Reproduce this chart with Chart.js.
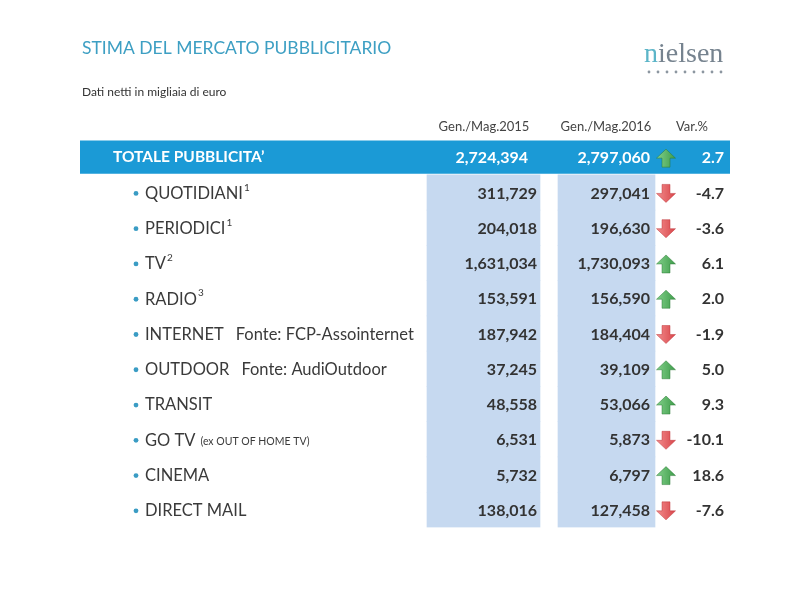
<!DOCTYPE html>
<html>
<head>
<meta charset="utf-8">
<script src="https://cdn.jsdelivr.net/npm/chart.js@4.4.1/dist/chart.umd.min.js"></script>
<style>
  html, body { margin: 0; padding: 0; background: #ffffff; }
  #wrap { width: 800px; height: 600px; }
</style>
</head>
<body>
<div id="wrap"><canvas id="marketChart" width="800" height="600"></canvas></div>
<script>
// Dati netti in migliaia di euro
const categories = ['TOTALE PUBBLICITA’', 'QUOTIDIANI', 'PERIODICI', 'TV', 'RADIO', 'INTERNET', 'OUTDOOR', 'TRANSIT', 'GO TV', 'CINEMA', 'DIRECT MAIL'];
const footnotes = ['', '1', '1', '2', '3', '', '', '', '', '', ''];
const sources = ['', '', '', '', '', 'Fonte: FCP-Assointernet', 'Fonte: AudiOutdoor', '', '(ex OUT OF HOME TV)', '', ''];
const values2015 = [2724394, 311729, 204018, 1631034, 153591, 187942, 37245, 48558, 6531, 5732, 138016];
const values2016 = [2797060, 297041, 196630, 1730093, 156590, 184404, 39109, 53066, 5873, 6797, 127458];
const varPct = [2.7, -4.7, -3.6, 6.1, 2.0, -1.9, 5.0, 9.3, -10.1, 18.6, -7.6];
const columnLabels = ['Gen./Mag.2015', 'Gen./Mag.2016', 'Var.%'];

// column layout, in x-axis units (0 = left edge of the table)
const cols = {
  width: 650,
  bullet: 56, label: 65, totalLabel: 33,
  band1: [347, 460], band2: [478, 575],
  val1: 457, val2: 570, arrow: 586, pct: 644,
  total1: 448, head1: 404, head2: 526, head3: 612
};

const FONT = 'Lato, "Open Sans", sans-serif';
const fmt = v => v.toLocaleString('en-US');

function drawArrow(ctx, cx, cy, up) {
  const h = 18, hw = 9.5, sw = 4, hh = 9;
  const dir = up ? -1 : 1;
  const tip = cy + dir * h / 2, base = cy - dir * h / 2, neck = tip - dir * hh;
  const g = ctx.createLinearGradient(cx - hw, 0, cx + hw, 0);
  if (up) { g.addColorStop(0, '#82d08a'); g.addColorStop(1, '#3e9c4a'); }
  else { g.addColorStop(0, '#f28c8c'); g.addColorStop(1, '#d8454a'); }
  ctx.beginPath();
  ctx.moveTo(cx, tip);
  ctx.lineTo(cx + hw, neck);
  ctx.lineTo(cx + sw, neck);
  ctx.lineTo(cx + sw, base);
  ctx.lineTo(cx - sw, base);
  ctx.lineTo(cx - sw, neck);
  ctx.lineTo(cx - hw, neck);
  ctx.closePath();
  ctx.fillStyle = g;
  ctx.fill();
  ctx.strokeStyle = up ? 'rgba(40,120,50,0.6)' : 'rgba(190,50,55,0.6)';
  ctx.lineWidth = 0.8;
  ctx.stroke();
}

const tableText = {
  id: 'tableText',
  afterDatasetsDraw(chart) {
    const { ctx, scales: { x, y } } = chart;
    ctx.save();
    ctx.textBaseline = 'middle';

    // title + subtitle
    ctx.fillStyle = '#3d9fc3';
    ctx.font = '17.5px ' + FONT;
    ctx.textAlign = 'left';
    ctx.fillText('STIMA DEL MERCATO PUBBLICITARIO', 82, 48);
    ctx.fillStyle = '#333';
    ctx.font = '12px ' + FONT;
    ctx.fillText('Dati netti in migliaia di euro', 82, 92);

    // nielsen logo
    ctx.font = '28px "Liberation Serif", "DejaVu Serif", serif';
    ctx.textBaseline = 'alphabetic';
    ctx.fillStyle = '#5cb5c8';
    ctx.fillText('n', 644, 62);
    const nw = ctx.measureText('n').width;
    ctx.fillStyle = '#76838f';
    ctx.fillText('ielsen', 644 + nw, 62);
    ctx.fillStyle = '#8c96a0';
    for (let k = 0; k < 9; k++) {
      ctx.beginPath();
      ctx.arc(649 + k * 9, 72, 1.4, 0, Math.PI * 2);
      ctx.fill();
    }
    ctx.textBaseline = 'middle';

    // column headers
    const y0 = y.getPixelForValue(0);
    ctx.fillStyle = '#444';
    ctx.font = '13px ' + FONT;
    ctx.textAlign = 'center';
    [cols.head1, cols.head2, cols.head3].forEach((c, k) => {
      ctx.fillText(columnLabels[k], x.getPixelForValue(c), y0 - 30);
    });

    categories.forEach((name, i) => {
      const py = y.getPixelForValue(i);
      const total = i === 0;
      if (total) {
        ctx.fillStyle = '#ffffff';
        ctx.font = 'bold 15.5px ' + FONT;
        ctx.textAlign = 'left';
        ctx.fillText(name, x.getPixelForValue(cols.totalLabel), py);
      } else {
        ctx.fillStyle = '#3a9cc4';
        ctx.beginPath();
        ctx.arc(x.getPixelForValue(cols.bullet), py + 1, 2.4, 0, Math.PI * 2);
        ctx.fill();
        ctx.fillStyle = '#3a3a3a';
        ctx.font = '16.5px ' + FONT;
        ctx.textAlign = 'left';
        const lx = x.getPixelForValue(cols.label);
        ctx.fillText(name, lx, py + 1);
        let end = lx + ctx.measureText(name).width;
        if (footnotes[i]) {
          ctx.font = '10px ' + FONT;
          ctx.fillText(footnotes[i], end + 1, py - 5);
        }
        if (sources[i]) {
          const small = sources[i].startsWith('(');
          ctx.font = (small ? '10.5px ' : '16.5px ') + FONT;
          ctx.fillText(sources[i], end + (small ? 5 : 12), py + (small ? 2 : 1));
        }
      }
      ctx.font = 'bold 16px ' + FONT;
      ctx.textAlign = 'right';
      ctx.fillStyle = total ? '#ffffff' : '#333333';
      ctx.fillText(fmt(values2015[i]), x.getPixelForValue(total ? cols.total1 : cols.val1), py + 1);
      ctx.fillText(fmt(values2016[i]), x.getPixelForValue(cols.val2), py + 1);
      ctx.fillText(varPct[i].toFixed(1), x.getPixelForValue(cols.pct), py + 1);
      drawArrow(ctx, x.getPixelForValue(cols.arrow), py + 1, varPct[i] >= 0);
    });
    ctx.restore();
  }
};

const rowBand = range => categories.map((c, i) => (i === 0 ? null : range));

new Chart(document.getElementById('marketChart'), {
  type: 'bar',
  data: {
    labels: categories,
    datasets: [
      {
        label: 'Totale',
        data: categories.map((c, i) => (i === 0 ? [0, cols.width] : null)),
        backgroundColor: '#1b9ad6',
        barPercentage: 1,
        categoryPercentage: 0.94,
        grouped: false
      },
      {
        label: columnLabels[0],
        data: rowBand(cols.band1),
        backgroundColor: '#c6d9f0',
        barPercentage: 1,
        categoryPercentage: 1,
        grouped: false
      },
      {
        label: columnLabels[1],
        data: rowBand(cols.band2),
        backgroundColor: '#c6d9f0',
        barPercentage: 1,
        categoryPercentage: 1,
        grouped: false
      }
    ]
  },
  options: {
    indexAxis: 'y',
    responsive: false,
    animation: false,
    devicePixelRatio: 1,
    layout: { padding: { left: 80, right: 70, top: 139.5, bottom: 72.5 } },
    plugins: { legend: { display: false }, tooltip: { enabled: false } },
    scales: {
      x: { type: 'linear', min: 0, max: cols.width, display: false },
      y: { type: 'category', display: false, offset: true }
    }
  },
  plugins: [tableText]
});
</script>
</body>
</html>
